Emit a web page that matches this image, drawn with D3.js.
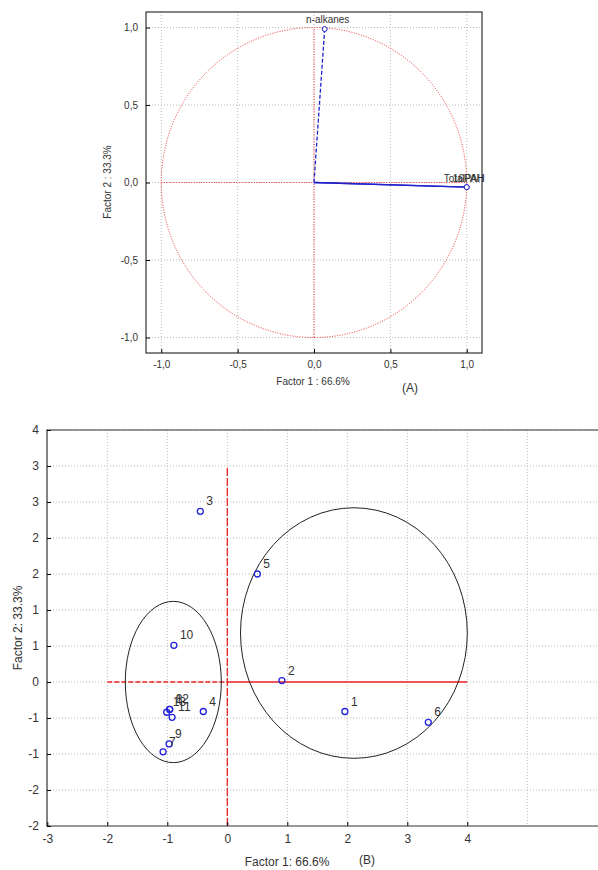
<!DOCTYPE html><html><head><meta charset="utf-8">
<script src="https://cdn.jsdelivr.net/npm/d3@7"></script>
<style>body{margin:0;background:#fff}text{font-family:Arial,"Liberation Sans",sans-serif;fill:#333}</style></head><body>
<svg id="c" width="598" height="870"></svg>
<script>
// Panel A: variable loadings
const varNames=["n-alkanes","TotalPAH","16PAH"];
const varX=[0.07,1.0,1.0];
const varY=[0.99,-0.03,-0.03];
const aTicks=[-1,-0.5,0,0.5,1];
// Panel B: case scores
const caseLabels=["1","2","3","4","5","6","7","8","9","10","11","12","13"];
const caseX=[1.96,0.91,-0.45,-0.40,0.50,3.35,-1.07,-0.96,-0.97,-0.89,-0.92,-0.96,-1.01];
const caseY=[-0.41,0.02,2.37,-0.41,1.50,-0.56,-0.97,-0.38,-0.86,0.51,-0.49,-0.38,-0.42];
const bXTicks=[-3,-2,-1,0,1,2,3,4];
const bYTicks=[-2,-1.5,-1,-0.5,0,0.5,1,1.5,2,2.5,3,3.5];
const bYLabels=["-2","-2","-1","-1","0","1","1","2","2","3","3","4"];
// cluster ellipses [cx,cy,rx,ry]
const clusters=[[-0.9,0,0.8,1.12],[2.11,0.68,1.89,1.74]];

const svg=d3.select("#c");
const fmt=d=>d3.format(".1f")(d).replace(".",",").replace("−","-");

// ---- Panel A
{
const x=d3.scaleLinear([-1.1,1.1],[146,482]);
const y=d3.scaleLinear([-1.1,1.1],[353,12]);
const g=svg.append("g");
g.selectAll(".gx").data(aTicks).join("line").attr("x1",x).attr("x2",x).attr("y1",12).attr("y2",353).attr("stroke","#bbb").attr("stroke-dasharray","1,2");
g.selectAll(".gy").data(aTicks).join("line").attr("y1",y).attr("y2",y).attr("x1",146).attr("x2",482).attr("stroke","#bbb").attr("stroke-dasharray","1,2");
g.append("ellipse").attr("cx",x(0)).attr("cy",y(0)).attr("rx",x(1)-x(0)).attr("ry",y(0)-y(1)).attr("fill","none").attr("stroke","#e33").attr("stroke-dasharray","1,1.5");
g.append("line").attr("x1",x(-1)).attr("x2",x(1)).attr("y1",y(0)).attr("y2",y(0)).attr("stroke","#e33").attr("stroke-dasharray","1,1.5");
g.append("line").attr("x1",x(0)).attr("x2",x(0)).attr("y1",y(-1)).attr("y2",y(1)).attr("stroke","#e33").attr("stroke-dasharray","1,1.5");
varNames.forEach((n,i)=>{
 g.append("line").attr("x1",x(0)).attr("y1",y(0)).attr("x2",x(varX[i])).attr("y2",y(varY[i])).attr("stroke","#22c").attr("stroke-width",1.3).attr("stroke-dasharray",i==0?"4,2":null);
 g.append("circle").attr("cx",x(varX[i])).attr("cy",y(varY[i])).attr("r",2.5).attr("fill","#fff").attr("stroke","#22c");
});
g.append("text").attr("x",x(varX[0])+3).attr("y",y(varY[0])-6).attr("text-anchor","middle").attr("font-size",10).text(varNames[0]);
g.append("text").attr("x",x(1)-23).attr("y",y(0)-1).attr("font-size",10).text(varNames[1]);
g.append("text").attr("x",x(1)-14).attr("y",y(0)-1).attr("font-size",10).text(varNames[2]);
g.append("rect").attr("x",146).attr("y",12).attr("width",336).attr("height",341).attr("fill","none").attr("stroke","#333").attr("stroke-width",1.2);
const ax=g.append("g").attr("transform","translate(0,353)").call(d3.axisBottom(x).tickValues(aTicks).tickFormat(fmt).tickSize(-4).tickPadding(8));
const ay=g.append("g").attr("transform","translate(146,0)").call(d3.axisLeft(y).tickValues(aTicks).tickFormat(fmt).tickSize(-4).tickPadding(8));
[ax,ay].forEach(a=>{a.select(".domain").remove();a.selectAll("text").attr("font-size",10).attr("fill","#333").style("font-family","Arial");});
g.append("text").attr("x",313).attr("y",385).attr("text-anchor","middle").attr("font-size",10).text("Factor 1 : 66.6%");
g.append("text").attr("x",410).attr("y",392).attr("text-anchor","middle").attr("font-size",12).text("(A)");
g.append("text").attr("transform","translate(111,182) rotate(-90)").attr("text-anchor","middle").attr("font-size",10).text("Factor 2 : 33.3%");
}
// ---- Panel B
{
const x=d3.scaleLinear([-3,4],[47.3,467.3]);
const y=d3.scaleLinear([-2,3.5],[826,430]);
const R=600;
const g=svg.append("g");
g.selectAll(".gx").data(bXTicks.slice(1).concat([5])).join("line").attr("x1",x).attr("x2",x).attr("y1",430).attr("y2",826).attr("stroke","#bbb").attr("stroke-dasharray","1,2");
g.selectAll(".gy").data(bYTicks.slice(1)).join("line").attr("y1",y).attr("y2",y).attr("x1",47).attr("x2",R).attr("stroke","#bbb").attr("stroke-dasharray","1,2");
g.append("line").attr("x1",x(-2)).attr("x2",x(0)).attr("y1",y(0)).attr("y2",y(0)).attr("stroke","#e22").attr("stroke-width",1.3).attr("stroke-dasharray","5,2");
g.append("line").attr("x1",x(0)).attr("x2",x(4)).attr("y1",y(0)).attr("y2",y(0)).attr("stroke","#e22").attr("stroke-width",1.3);
g.append("line").attr("x1",x(0)).attr("x2",x(0)).attr("y1",y(-2)).attr("y2",y(3)).attr("stroke","#e22").attr("stroke-width",1.3).attr("stroke-dasharray","8,2");
g.selectAll(".el").data(clusters).join("ellipse").attr("cx",d=>x(d[0])).attr("cy",d=>y(d[1])).attr("rx",d=>x(d[2])-x(0)).attr("ry",d=>y(0)-y(d[3])).attr("fill","none").attr("stroke","#222").attr("stroke-width",1);
g.selectAll(".pt").data(caseLabels).join("circle").attr("cx",(d,i)=>x(caseX[i])).attr("cy",(d,i)=>y(caseY[i])).attr("r",3).attr("fill","none").attr("stroke","#22d").attr("stroke-width",1.3);
g.selectAll(".lb").data(caseLabels).join("text").attr("x",(d,i)=>x(caseX[i])+6).attr("y",(d,i)=>y(caseY[i])-6).attr("font-size",12).attr("fill","#111").text(d=>d);
g.append("path").attr("d",`M${R},430H47V826H${R}`).attr("fill","none").attr("stroke","#333").attr("stroke-width",1.2);
const ax=g.append("g").attr("transform","translate(0,826)").call(d3.axisBottom(x).tickValues(bXTicks).tickFormat(d=>String(d)).tickSize(-4).tickPadding(8));
const ay=g.append("g").attr("transform","translate(47,0)").call(d3.axisLeft(y).tickValues(bYTicks).tickFormat((d,i)=>bYLabels[i]).tickSize(-4).tickPadding(8));
[ax,ay].forEach(a=>{a.select(".domain").remove();a.selectAll("text").attr("font-size",12).attr("fill","#333").style("font-family","Arial");});
g.append("text").attr("x",287).attr("y",866).attr("text-anchor","middle").attr("font-size",12).text("Factor 1: 66.6%");
g.append("text").attr("x",367).attr("y",864).attr("text-anchor","middle").attr("font-size",12).text("(B)");
g.append("text").attr("transform","translate(22,628) rotate(-90)").attr("text-anchor","middle").attr("font-size",12).text("Factor 2: 33.3%");
}
</script></body></html>
